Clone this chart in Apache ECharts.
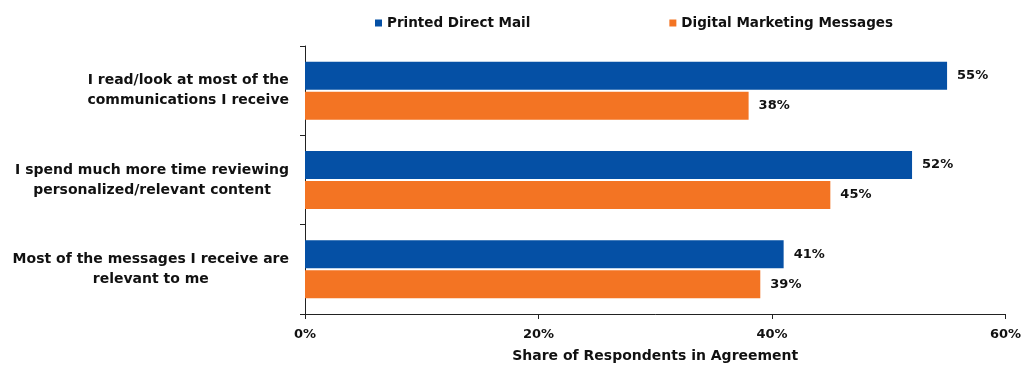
<!DOCTYPE html>
<html>
<head>
<meta charset="utf-8">
<script src="https://cdn.jsdelivr.net/npm/echarts@6/dist/echarts.min.js"></script>
<style>
  html, body { margin: 0; padding: 0; background: #fff; }
  #chart { width: 1024px; height: 368px; }
</style>
</head>
<body>
<div id="chart"></div>
<script>
// Survey statements (two-line labels)
const categories = [
  'I read/look at most of the\ncommunications I receive',
  'I spend much more time reviewing\npersonalized/relevant content',
  'Most of the messages I receive are\nrelevant to me'
];
const seriesNames = ['Printed Direct Mail', 'Digital Marketing Messages'];
const printedMail = [55, 52, 41];
const digitalMessages = [38, 45, 39];
const xTicks = { min: 0, max: 60, interval: 20 };

const FONT = '"DejaVu Sans", sans-serif';
const BLUE = '#0550A5';
const ORANGE = '#F37423';

const chart = echarts.init(document.getElementById('chart'));

const valueLabel = {
  show: true,
  position: 'right',
  distance: 10,
  formatter: p => p.value + '%',
  color: '#111',
  fontFamily: FONT,
  fontWeight: 'bold',
  fontSize: 13
};

chart.setOption({
  animation: false,
  textStyle: { fontFamily: FONT },
  legend: {
    top: 11,
    left: 370,
    itemWidth: 7,
    itemHeight: 7,
    itemGap: 139,
    icon: 'rect',
    textStyle: { fontFamily: FONT, fontWeight: 'bold', fontSize: 13.5, color: '#111' },
    data: seriesNames
  },
  grid: { left: 305, right: 18, top: 46, bottom: 53 },
  xAxis: {
    type: 'value',
    min: xTicks.min,
    max: xTicks.max,
    interval: xTicks.interval,
    name: 'Share of Respondents in Agreement',
    nameLocation: 'middle',
    nameGap: 35,
    nameTextStyle: { fontFamily: FONT, fontWeight: 'bold', fontSize: 14, color: '#111' },
    axisLine: { show: true, lineStyle: { color: '#222', width: 1 } },
    axisTick: { show: true, length: 5, lineStyle: { color: '#222' } },
    splitLine: { show: false },
    axisLabel: {
      formatter: v => v + '%',
      margin: 14,
      fontFamily: FONT,
      fontWeight: 'bold',
      fontSize: 13,
      color: '#111'
    }
  },
  yAxis: {
    type: 'category',
    inverse: true,
    data: categories,
    axisLine: { show: true, lineStyle: { color: '#222', width: 1 } },
    axisTick: { show: true, length: 5, lineStyle: { color: '#222' } },
    axisLabel: {
      margin: 16,
      formatter: v => v.split('\n').map(l => '{c|' + l + '}').join('\n'),
      rich: {
        c: {
          align: 'center',
          fontFamily: FONT,
          fontWeight: 'bold',
          fontSize: 14,
          lineHeight: 20,
          color: '#111'
        }
      }
    }
  },
  series: [
    {
      name: seriesNames[0],
      type: 'bar',
      data: printedMail,
      barWidth: 28,
      barGap: '7%',
      itemStyle: { color: BLUE },
      label: valueLabel
    },
    {
      name: seriesNames[1],
      type: 'bar',
      data: digitalMessages,
      barWidth: 28,
      barGap: '7%',
      itemStyle: { color: ORANGE },
      label: valueLabel
    }
  ]
});
</script>
</body>
</html>
